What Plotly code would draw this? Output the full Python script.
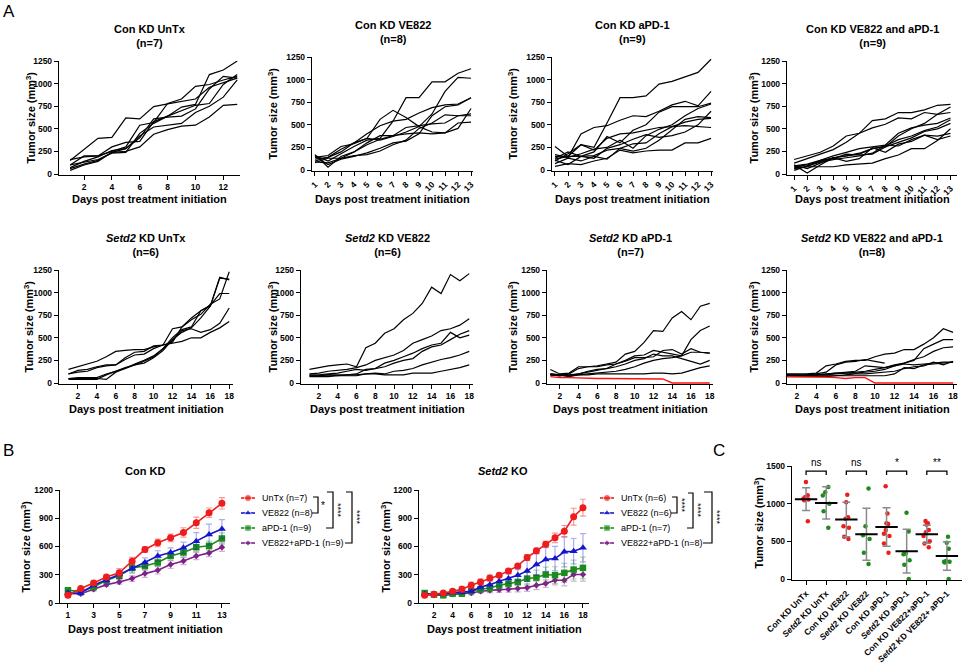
import plotly.graph_objects as go

FONT = "Liberation Sans"
W, H = 966, 663

# ---------------- Panel A data (individual mice) ----------------
days_con = list(range(1, 14))
days_setd2 = list(range(1, 19))

con_untx = [
    [150, 275, 395, 405, 620, 610, 745, 775, 800, 830, 960, 1010, 1060],
    [160, 190, 200, 250, 300, 540, 570, 780, 830, 970, 990, 1040, 1080],
    [100, 130, 160, 230, 240, 450, 560, 640, 700, 760, 780, 990, 1100],
    [70, 140, 190, 260, 280, 400, 610, 630, 640, 720, 940, 1080, 1060],
    [60, 110, 150, 240, 250, 300, 440, 490, 530, 540, 630, 760, 770],
    [40, 100, 140, 240, 280, 420, 520, 540, 560, 680, 750, 850, 1040],
    [100, 200, 200, 300, 350, 360, 580, 640, 740, 770, 1100, 1150, 1250],
]
con_ve822 = [
    [160, 100, 180, 260, 330, 350, 540, 800, 800, 975, 975, 1070, 1120],
    [120, 140, 200, 300, 350, 330, 370, 420, 480, 620, 870, 1025, 1015],
    [100, 140, 230, 300, 400, 490, 540, 560, 630, 690, 720, 730, 800],
    [140, 160, 260, 290, 350, 560, 660, 580, 480, 420, 410, 460, 680],
    [170, 30, 150, 200, 280, 340, 380, 470, 490, 510, 520, 600, 620],
    [80, 130, 130, 200, 300, 380, 380, 400, 410, 400, 410, 520, 530],
    [150, 60, 120, 150, 190, 240, 300, 320, 400, 600, 700, 720, 800],
    [90, 80, 130, 160, 170, 210, 280, 330, 460, 520, 610, 600, 600],
]
con_apd1 = [
    [120, 150, 280, 250, 520, 800, 800, 820, 950, 980, 1030, 1080, 1225],
    [170, 140, 400, 470, 490, 550, 600, 590, 650, 720, 760, 710, 870],
    [260, 150, 150, 200, 370, 300, 440, 500, 640, 700, 700, 700, 740],
    [100, 180, 280, 220, 350, 400, 410, 440, 470, 480, 530, 560, 570],
    [150, 140, 180, 230, 250, 330, 240, 380, 450, 500, 600, 680, 730],
    [130, 200, 150, 130, 240, 280, 340, 390, 360, 380, 420, 500, 650],
    [110, 60, 150, 160, 220, 240, 290, 300, 400, 480, 490, 480, 470],
    [70, 130, 100, 150, 120, 240, 210, 240, 330, 440, 560, 590, 580],
    [40, 70, 60, 100, 130, 220, 190, 210, 220, 220, 300, 300, 350],
]
con_combo = [
    [160, 200, 240, 310, 420, 450, 590, 610, 680, 680, 710, 760, 770],
    [120, 170, 220, 270, 350, 450, 510, 550, 620, 610, 680, 660, 680],
    [100, 10, 100, 180, 200, 220, 280, 300, 420, 500, 560, 660, 740],
    [90, 110, 150, 200, 240, 280, 300, 320, 450, 510, 540, 560, 620],
    [80, 100, 140, 180, 200, 230, 280, 310, 380, 420, 480, 520, 600],
    [70, 80, 150, 170, 220, 210, 220, 300, 350, 400, 470, 500, 560],
    [100, 60, 120, 180, 140, 170, 290, 240, 330, 360, 430, 420, 450],
    [60, 80, 80, 80, 100, 110, 120, 170, 210, 280, 280, 370, 500],
    [40, 90, 130, 160, 180, 200, 230, 320, 310, 380, 430, 380, 420],
]
setd2_untx = [
    [150, 180, 210, 240, 290, 350, 360, 370, 370, 400, 420, 440, 460, 500, 500, 560, 610, 680],
    [100, 140, 150, 180, 200, 200, 280, 340, 350, 410, 420, 600, 620, 720, 800, 850, 1160, 1150],
    [100, 120, 130, 170, 190, 200, 260, 310, 320, 380, 420, 450, 620, 700, 760, 870, 930, 1230],
    [50, 60, 60, 60, 100, 130, 160, 200, 240, 290, 380, 470, 580, 600, 560, 590, 660, 830],
    [50, 50, 50, 50, 40, 120, 160, 210, 250, 300, 380, 500, 590, 620, 800, 860, 990, 990],
    [40, 40, 40, 40, 90, 130, 170, 200, 220, 280, 360, 480, 560, 610, 720, 850, 1170, 1140],
]
setd2_ve822 = [
    [150, 170, 190, 200, 210, 180, 390, 440, 550, 600, 700, 770, 880, 1060, 990, 1200, 1130, 1210],
    [100, 110, 130, 140, 150, 170, 200, 250, 280, 310, 360, 440, 480, 520, 580, 600, 640, 710],
    [90, 90, 100, 110, 130, 150, 140, 160, 220, 250, 290, 330, 380, 420, 440, 560, 500, 530],
    [80, 80, 90, 90, 90, 100, 150, 160, 180, 220, 250, 270, 350, 400, 420, 480, 540, 580],
    [80, 80, 90, 80, 80, 80, 100, 110, 100, 130, 140, 160, 200, 230, 260, 280, 310, 350],
    [70, 70, 70, 80, 90, 90, 100, 100, 90, 90, 90, 110, 110, 110, 130, 150, 170, 200],
]
setd2_apd1 = [
    [150, 100, 110, 180, 180, 190, 210, 230, 320, 350, 450, 580, 570, 720, 790, 700, 850, 880],
    [100, 90, 90, 100, 120, 140, 160, 210, 250, 300, 310, 360, 340, 320, 300, 480, 580, 630],
    [90, 80, 100, 160, 180, 180, 200, 210, 240, 280, 280, 290, 360, 370, 320, 380, 340, 330],
    [90, 90, 80, 100, 130, 150, 160, 180, 210, 250, 270, 320, 300, 300, 270, 240, 210, 250],
    [100, 90, 70, 90, 100, 110, 120, 130, 150, 180, 220, 250, 270, 280, 300, 340, 340, 330],
    [90, 80, 80, 90, 90, 100, 100, 100, 100, 100, 100, 110, 110, 100, 110, 140, 170, 190],
]
setd2_apd1_red = [70, 60, 60, 55, 50, 50, 50, 50, 50, 50, 50, 50, 45, 0, 0, 0, 0, 0]
setd2_combo = [
    [100, 100, 100, 110, 190, 210, 240, 250, 250, 290, 320, 330, 370, 370, 430, 500, 600, 560],
    [90, 90, 90, 100, 120, 200, 230, 240, 260, 240, 220, None, None, None, None, None, None, None],
    [90, 90, 80, 90, 100, 110, 120, 130, 190, 180, 170, 200, 220, 250, 380, 430, 480, 480],
    [80, 80, 80, 90, 100, 110, 110, 120, 130, 150, 170, 190, 220, 260, 290, 350, 390, 400],
    [80, 80, 90, 90, 90, 100, 110, 110, 120, 130, 150, 190, 210, 200, 210, 220, 230, 230],
    [80, 80, 80, 80, 80, 80, 90, 100, 100, 110, 120, 130, 160, 180, 190, 230, 200, 240],
    [70, 70, 70, 70, 70, 80, 80, 80, 80, 80, 80, 100, 170, 160, 200, 210, 220, 230],
]
setd2_combo_red = [70, 70, 65, 65, 65, 60, 50, 60, 60, 0, 0, 0, 0, 0, 0, 0, 0, 0]

# ---------------- Panel B data (mean +/- SEM) ----------------
groups_b = ["UnTx", "VE822", "aPD-1", "VE822+aPD-1"]
con_n = [7, 8, 9, 9]
setd2_n = [6, 6, 7, 8]
con_mean = [
    [82, 153, 213, 277, 320, 444, 568, 639, 692, 749, 852, 959, 1058],
    [106, 106, 188, 241, 302, 366, 430, 500, 536, 586, 657, 728, 785],
    [135, 124, 170, 241, 288, 373, 394, 430, 500, 536, 593, 607, 685],
    [99, 99, 146, 195, 224, 259, 312, 348, 408, 447, 500, 532, 593],
]
con_err = [
    [20, 15, 20, 20, 45, 40, 30, 40, 40, 50, 60, 50, 60],
    [20, 20, 20, 25, 40, 50, 50, 55, 50, 60, 90, 110, 100],
    [25, 20, 20, 25, 30, 45, 45, 45, 45, 50, 50, 50, 60],
    [15, 15, 20, 20, 25, 30, 40, 40, 40, 40, 40, 40, 45],
]
setd2_mean = [
    [82, 92, 106, 124, 146, 188, 224, 266, 295, 341, 394, 483, 554, 625, 692, 763, 916, 1012],
    [95, 95, 95, 110, 115, 125, 170, 195, 231, 259, 295, 341, 408, 462, 472, 543, 550, 586],
    [106, 89, 82, 99, 99, 128, 146, 160, 188, 206, 224, 259, 270, 302, 295, 320, 355, 373],
    [89, 82, 82, 92, 99, 106, 124, 135, 142, 146, 153, 163, 188, 206, 241, 241, 302, 302],
]
setd2_err = [
    [15, 15, 15, 20, 30, 35, 30, 30, 20, 25, 25, 30, 30, 30, 50, 60, 90, 90],
    [10, 10, 10, 15, 20, 20, 30, 40, 50, 50, 60, 110, 115, 125, 130, 160, 135, 150],
    [10, 10, 10, 15, 20, 25, 30, 40, 40, 40, 60, 70, 80, 80, 90, 100, 100, 115],
    [10, 10, 10, 10, 15, 20, 20, 25, 30, 30, 35, 40, 45, 40, 50, 60, 70, 70],
]

# ---------------- Panel C data (last day, individual + mean/SD) ----------------
c_labels = ["Con KD UnTx", "<i>Setd2</i> KD UnTx", "Con KD VE822", "<i>Setd2</i> KD VE822",
            "Con KD aPD-1", "<i>Setd2</i> KD aPD-1", "Con KD VE822+aPD-1", "<i>Setd2</i> KD VE822+ aPD-1"]
c_points = [
    [1288, 1111, 1089, 1067, 1054, 1045, 767],
    [1220, 1150, 1110, 1000, 900, 680],
    [1120, 1020, 820, 800, 700, 680, 560, 530],
    [1200, 700, 580, 530, 350, 200],
    [1230, 870, 740, 730, 650, 600, 570, 470, 350],
    [880, 630, 340, 330, 250, 190, 0],
    [770, 740, 720, 650, 620, 570, 500, 470, 420],
    [560, 480, 400, 240, 230, 230, 220, 0],
]
c_mean = [1060, 1010, 790, 595, 690, 370, 595, 305]
c_sd = [150, 215, 230, 345, 255, 290, 120, 190]
c_sig = ["ns", "ns", "*", "**"]

RED = "#ee1c1c"
BLUE = "#1515cc"
GREEN = "#1b8c1b"
PURPLE = "#7f1f8a"
ERRC = ["rgba(238,28,28,0.45)", "rgba(21,21,204,0.35)", "rgba(27,140,27,0.35)", "rgba(127,31,138,0.35)"]
COLS = [RED, BLUE, GREEN, PURPLE]
SYMS = ["circle", "triangle-up", "square", "diamond"]
MSZ = [7, 7, 6.5, 5]

fig = go.Figure()
layout = dict(width=W, height=H, margin=dict(l=0, r=0, t=0, b=0, pad=0, autoexpand=False),
              paper_bgcolor="white", plot_bgcolor="rgba(0,0,0,0)", showlegend=False,
              font=dict(family=FONT, color="black"), boxmode="overlay")
annotations = []
shapes = []


def px_x(p):
    return p / W


def px_y(p):
    return 1 - p / H


def add_axes(n, left, right, top, zero, xr, yr, xtv, ytv, xangle=0, xtt=None):
    ymin, ymax = yr
    bottom = zero + (-ymin) * (zero - top) / ymax
    s = "" if n == 1 else str(n)
    common = dict(showline=True, linecolor="black", linewidth=1.4, ticks="outside", ticklen=4,
                  tickwidth=1.3, tickcolor="black", showgrid=False, zeroline=False, automargin=False,
                  tickfont=dict(family=FONT, size=8.5, color="black", weight="bold"), fixedrange=True)
    xa = dict(common, domain=[px_x(left), px_x(right)], range=xr, tickmode="array",
              tickvals=xtv, anchor="y" + s, tickangle=xangle)
    if xtt is not None:
        xa["ticktext"] = xtt
    ya = dict(common, domain=[px_y(bottom), px_y(top)], range=[ymin, ymax], tickmode="array",
              tickvals=ytv, anchor="x" + s)
    layout["xaxis" + s] = xa
    layout["yaxis" + s] = ya
    return "x" + s, "y" + s


def ann(text, x, y, size=11, bold=True, angle=0, xanchor="center", yanchor="middle"):
    annotations.append(dict(text=text, x=px_x(x), y=px_y(y), xref="paper", yref="paper",
                            showarrow=False, textangle=angle, xanchor=xanchor, yanchor=yanchor,
                            font=dict(family=FONT, size=size, color="black",
                                      weight="bold" if bold else "normal")))


YT = "Tumor size (mm<sup>3</sup>)"
XT = "Days post treatment initiation"
yt_a = [0, 250, 500, 750, 1000, 1250]

panels = [
    (1, con_untx, None, days_con, 59, 240, 61, 174, [0.2, 13.2], list(range(2, 13, 2)), 0,
     "Con KD UnTx<br>(n=7)", 36, 30, 199),
    (2, con_ve822, None, days_con, 312, 473, 57, 170, [0.77, 13.15], days_con, -45,
     "Con KD VE822<br>(n=8)", 32, 272, 199),
    (3, con_apd1, None, days_con, 552, 713, 57, 170, [0.77, 13.15], days_con, -45,
     "Con KD aPD-1<br>(n=9)", 32, 512, 199),
    (4, con_combo, None, days_con, 787, 957, 61, 174, [0.45, 13.5], days_con, -45,
     "Con KD VE822 and aPD-1<br>(n=9)", 36, 753, 199),
    (5, setd2_untx, None, days_setd2, 59, 233, 270, 383, [0, 18.4], list(range(2, 19, 2)), 0,
     "<i>Setd2</i> KD UnTx<br>(n=6)", 245, 28, 409),
    (6, setd2_ve822, None, days_setd2, 301, 473, 270, 383, [0.1, 18.4], list(range(2, 19, 2)), 0,
     "<i>Setd2</i> KD VE822<br>(n=6)", 245, 272, 409),
    (7, setd2_apd1, setd2_apd1_red, days_setd2, 547, 713, 270, 383, [0.64, 18.35], list(range(2, 19, 2)), 0,
     "<i>Setd2</i> KD aPD-1<br>(n=7)", 245, 512, 409),
    (8, setd2_combo, setd2_combo_red, days_setd2, 787, 957, 270, 383, [1.0, 18.4], list(range(2, 19, 2)), 0,
     "<i>Setd2</i> KD VE822 and aPD-1<br>(n=8)", 245, 753, 409),
]

for (n, data, red, days, L, R, T, Z, xr, xtv, ang, title, ty, ytx, xty) in panels:
    xa, ya = add_axes(n, L, R, T, Z, xr, [-12, 1250], xtv, yt_a, xangle=ang)
    for series in data:
        fig.add_trace(go.Scatter(x=days, y=series, mode="lines", xaxis=xa, yaxis=ya,
                                 line=dict(color="black", width=1.2), hoverinfo="skip"))
    if red is not None:
        fig.add_trace(go.Scatter(x=days, y=red, mode="lines", xaxis=xa, yaxis=ya,
                                 line=dict(color="#ff1010", width=1.4), hoverinfo="skip"))
    ann(title, (L + R) / 2, ty, size=11)
    ann(YT, ytx, (T + Z) / 2, size=11, angle=-90)
    ann(XT, (L + R) / 2, xty, size=11)

# ---------------- Panel B ----------------
b_panels = [
    (9, con_mean, con_err, days_con, 60, 230, [0.38, 13.63], list(range(1, 14, 2)), "Con KD", 145, 25, con_n, 248),
    (10, setd2_mean, setd2_err, days_setd2, 419, 589, [0.39, 18.65], list(range(2, 19, 2)), "<i>Setd2</i> KO", 503, 385, setd2_n, 607),
]
leg_rows = [498, 513, 528, 543]
for (n, means, errs, days, L, R, xr, xtv, title, tx, ytx, ns, legx) in b_panels:
    xa, ya = add_axes(n, L, R, 490, 603, xr, [0, 1200], xtv, [0, 300, 600, 900, 1200])
    for k in [3, 2, 1, 0]:
        fig.add_trace(go.Scatter(
            x=days, y=means[k], mode="lines+markers", xaxis=xa, yaxis=ya, cliponaxis=False,
            line=dict(color=COLS[k], width=1.6),
            marker=dict(symbol=SYMS[k], size=MSZ[k], color=COLS[k]),
            error_y=dict(type="data", array=errs[k], color=ERRC[k], thickness=1.2, width=3),
            hoverinfo="skip"))
    ann(title, tx, 471, size=11)
    ann(YT, ytx, (490 + 603) / 2, size=11, angle=-90)
    ann(XT, (L + R) / 2, 629, size=11)
    for k in range(4):
        fig.add_trace(go.Scatter(x=[legx - 7, legx, legx + 7], y=[leg_rows[k]] * 3,
                                 mode="lines+markers", xaxis="x12", yaxis="y12",
                                 line=dict(color=COLS[k], width=1.6),
                                 marker=dict(symbol=SYMS[k], size=[0, MSZ[k], 0], color=COLS[k]),
                                 hoverinfo="skip"))
        ann(f"{groups_b[k]} (n={ns[k]})", legx + 12, leg_rows[k], size=9, bold=False, xanchor="left")

layout["xaxis12"] = dict(domain=[0, 1], range=[0, W], visible=False, fixedrange=True, anchor="y12")
layout["yaxis12"] = dict(domain=[0, 1], range=[H, 0], visible=False, fixedrange=True, anchor="x12")


def bracket(x0, x1, ya, yb, lab, lx, ly):
    shapes.append(dict(type="path", xref="x12", yref="y12",
                       path=f"M {x0},{ya} L {x1},{ya} L {x1},{yb} L {x0 - 1},{yb}",
                       line=dict(color="black", width=1.2)))
    if lab == "*":
        ann(lab, lx, ly, size=10, bold=False)
    else:
        ann(lab, lx, ly, size=9, bold=False, angle=90)


bracket(313, 318, 497, 513, "*", 323, 506)
bracket(327, 333, 492, 528, "****", 338, 510)
bracket(346, 352, 492, 543, "****", 357, 517)
bracket(672, 677, 497, 513, "****", 682, 505)
bracket(688, 693, 493, 528, "****", 698, 510)
bracket(704, 712, 492, 543, "****", 717, 517)

# ---------------- Panel C ----------------
xa, ya = add_axes(11, 792, 962, 466, 579, [-0.7, 7.75], [-15, 1500], list(range(8)),
                  [0, 500, 1000, 1500], xangle=-45, xtt=c_labels)
for i, pts in enumerate(c_points):
    col = RED if i % 2 == 0 else GREEN
    fig.add_trace(go.Box(x=[i] * len(pts), y=pts, xaxis=xa, yaxis=ya, boxpoints="all",
                         jitter=0.8, pointpos=0, width=0.5, fillcolor="rgba(0,0,0,0)",
                         line=dict(color="rgba(0,0,0,0)", width=0),
                         marker=dict(color=col, size=4.5), hoverinfo="skip"))
fig.add_trace(go.Scatter(x=list(range(8)), y=c_mean, mode="markers", xaxis=xa, yaxis=ya,
                         marker=dict(symbol="line-ew", size=16, color="black",
                                     line=dict(color="black", width=2)),
                         error_y=dict(type="data", array=c_sd, color="#8a8a8a", thickness=1.5, width=4),
                         hoverinfo="skip"))
for j, lab in enumerate(c_sig):
    i0, i1 = 2 * j, 2 * j + 1
    shapes.append(dict(type="path", xref=xa, yref=ya,
                       path=f"M {i0},1380 L {i0},1433 L {i1},1433 L {i1},1380",
                       line=dict(color="black", width=1.3)))
    annotations.append(dict(text=lab, x=(i0 + i1) / 2, y=1445, xref=xa, yref=ya, showarrow=False,
                            yanchor="bottom", font=dict(family=FONT, size=10, color="black")))
ann(YT, 758, (466 + 579) / 2, size=11, angle=-90)

ann("A", 9, 11, size=17, bold=False)
ann("B", 8, 450, size=17, bold=False)
ann("C", 719, 450, size=17, bold=False)

layout["annotations"] = annotations
layout["shapes"] = shapes
fig.update_layout(**layout)
fig.write_html("out.html", config={"displayModeBar": False},
               post_script="document.body.style.margin='0';document.body.style.overflow='hidden';")
